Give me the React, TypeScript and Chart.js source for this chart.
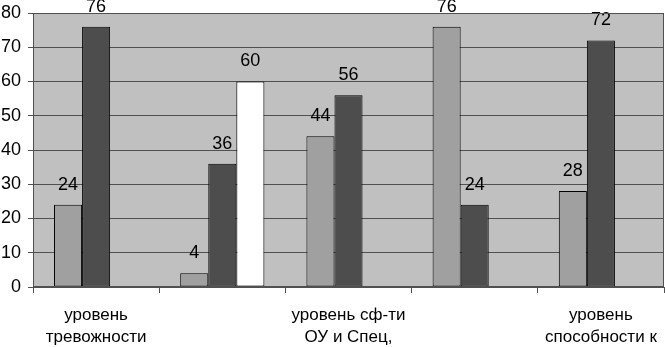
import React, { useEffect, useRef } from "react";
import { Chart, registerables } from "chart.js";

Chart.register(...registerables);

const categories: (string | string[])[] = [
  ["уровень", "тревожности"],
  "",
  ["уровень сф-ти", "ОУ и Спец,"],
  "",
  ["уровень", "способности к"],
];
const series1: (number | null)[] = [24, 4, 44, 76, 28];
const series2: (number | null)[] = [76, 36, 56, 24, 72];
const series3: (number | null)[] = [null, 60, null, null, null];
const yTicks = [0, 10, 20, 30, 40, 50, 60, 70, 80];

const FONT = "'Liberation Sans', Arial, sans-serif";

const bgPlugin = {
  id: "bgPlugin",
  beforeDraw(chart: any) {
    const { ctx, chartArea } = chart;
    ctx.save();
    ctx.fillStyle = "#c0c0c0";
    ctx.fillRect(chartArea.left, chartArea.top, chartArea.right - chartArea.left, chartArea.bottom - chartArea.top);
    ctx.restore();
  },
  afterDraw(chart: any) {
    const { ctx, chartArea } = chart;
    ctx.save();
    ctx.strokeStyle = "#505050";
    ctx.lineWidth = 1;
    ctx.strokeRect(chartArea.left + 0.5, chartArea.top + 0.5, chartArea.right - chartArea.left - 1, chartArea.bottom - chartArea.top - 1);
    ctx.restore();
  },
};

const labelPlugin = {
  id: "labelPlugin",
  afterDatasetsDraw(chart: any) {
    const { ctx } = chart;
    ctx.save();
    ctx.fillStyle = "#000";
    ctx.font = `18px ${FONT}`;
    ctx.textAlign = "center";
    ctx.textBaseline = "middle";
    chart.data.datasets.forEach((ds: any, di: number) => {
      const meta = chart.getDatasetMeta(di);
      meta.data.forEach((bar: any, i: number) => {
        const v = ds.data[i];
        if (v === null || v === undefined) return;
        ctx.fillText(String(v), bar.x, bar.y - 20);
      });
    });
    ctx.restore();
  },
};

export default function App() {
  const ref = useRef<HTMLCanvasElement>(null);
  useEffect(() => {
    if (!ref.current) return;
    const common = {
      borderColor: "#000",
      borderWidth: 1,
      borderSkipped: false,
      categoryPercentage: 0.667,
      barPercentage: 1.0,
    };
    const chart = new Chart(ref.current, {
      type: "bar",
      data: {
        labels: categories,
        datasets: [
          { label: "1", data: series1, backgroundColor: "#a0a0a0", ...common },
          { label: "2", data: series2, backgroundColor: "#4d4d4d", ...common },
          { label: "3", data: series3, backgroundColor: "#ffffff", ...common },
        ],
      },
      options: {
        responsive: false,
        animation: false,
        layout: { padding: { top: 13, right: 1, left: 0, bottom: 0 } },
        plugins: {
          legend: { display: false },
          tooltip: { enabled: false },
        },
        scales: {
          x: {
            offset: true,
            grid: { drawOnChartArea: false, drawTicks: true, tickLength: 6, offset: true, color: "#505050" },
            border: { color: "#505050" },
            ticks: {
              autoSkip: false,
              maxRotation: 0,
              color: "#000",
              font: { family: FONT, size: 17, lineHeight: 1.3 },
              padding: 11,
            },
            afterFit: (s: any) => { s.height = 60; s.paddingLeft = 0; s.paddingRight = 0; },
          },
          y: {
            min: 0,
            max: 80,
            afterBuildTicks: (s: any) => { s.ticks = yTicks.map((v) => ({ value: v })); },
            grid: { color: "#505050", tickLength: 5 },
            border: { color: "#505050" },
            ticks: {
              color: "#000",
              font: { family: FONT, size: 18 },
              padding: 7,
            },
            afterFit: (s: any) => { s.width = 33; s.paddingTop = 0; s.paddingBottom = 0; },
          },
        },
      },
      plugins: [bgPlugin, labelPlugin],
    });
    return () => chart.destroy();
  }, []);
  return (
    <div style={{ position: "fixed", left: 0, top: 0, width: 665, height: 347, background: "#fff" }}>
      <canvas ref={ref} width={665} height={347} />
    </div>
  );
}
